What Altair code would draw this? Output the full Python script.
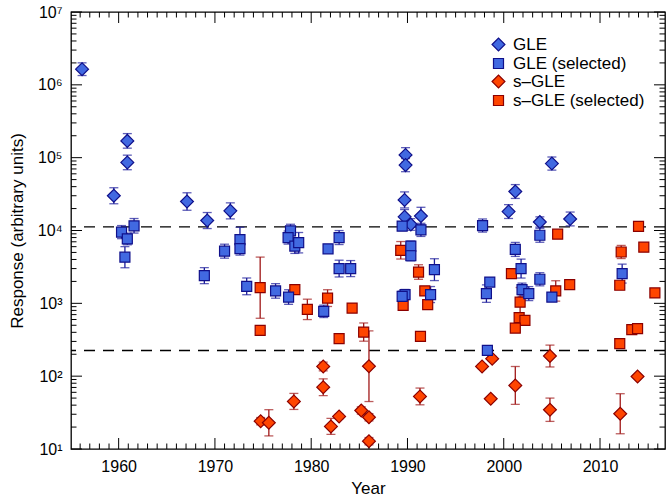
import altair as alt
import pandas as pd

# ---------------- data ----------------
series_names = ["GLE", "GLE (selected)", "s–GLE", "s–GLE (selected)"]

gle_year = [1956.2, 1959.5, 1960.9, 1960.9, 1967.1, 1969.2, 1971.6, 1989.8, 1989.8,
            1989.7, 1989.7, 1990.35, 1991.4, 2000.5, 2001.2, 2005.0, 2003.75, 2006.9]
gle_val = [1.64e6, 3.0e4, 1.70e5, 8.6e4, 2.5e4, 1.37e4, 1.86e4, 1.09e5, 7.9e4,
           2.63e4, 1.54e4, 1.21e4, 1.58e4, 1.82e4, 3.43e4, 8.3e4, 1.31e4, 1.44e4]
gle_err = [0.087, 0.11, 0.1, 0.1, 0.12, 0.11, 0.11, 0.1, 0.09,
           0.11, 0.1, 0.08, 0.12, 0.095, 0.095, 0.09, 0.07, 0.095]

gsel_year = [1960.3, 1960.9, 1961.6, 1960.65, 1968.9, 1971.0, 1972.6, 1972.6, 1973.3, 1976.3,
             1977.65, 1977.85, 1977.6, 1978.3, 1978.7, 1981.3, 1981.75, 1982.9, 1982.9, 1984.1,
             1989.45, 1990.35, 1990.35, 1991.4, 1992.8, 1989.75, 1989.45, 1992.4, 1997.8, 1998.55,
             1998.2, 1998.3, 2001.2, 2001.8, 2003.75, 2003.75, 2001.9, 2002.6, 2005.0, 2012.3]
gsel_val = [9.5e3, 7.65e3, 1.16e4, 4.3e3, 2.4e3, 5.2e3, 7.5e3, 5.65e3, 1.71e3, 1.48e3,
            1.22e3, 9.9e3, 8.0e3, 6.1e3, 6.8e3, 776, 5.6e3, 8.0e3, 3.0e3, 3.0e3,
            1.15e4, 6.1e3, 4.5e3, 1.02e4, 2.9e3, 1.32e3, 1.25e3, 1.32e3, 1.17e4, 1.96e3,
            1.36e3, 226, 5.5e3, 3.0e3, 8.6e3, 2.14e3, 1.54e3, 1.36e3, 1.22e3, 2.56e3]
gsel_err = [0.09, 0.08, 0.1, 0.145, 0.11, 0.096, 0.17, 0.09, 0.115, 0.1,
            0.1, 0.09, 0.09, 0.1, 0.14, 0.085, 0.03, 0.096, 0.115, 0.11,
            0.06, 0.07, 0.07, 0.09, 0.15, 0.07, 0.07, 0.11, 0.09, 0.03,
            0.12, 0.03, 0.096, 0.13, 0.096, 0.09, 0.09, 0.096, 0.03, 0.13]

sgle_year = [1974.75, 1975.6, 1978.2, 1981.25, 1981.25, 1982.05, 1982.9, 1985.2, 1986.0, 1986.0,
             1986.0, 1991.3, 1997.75, 1998.8, 1998.65, 2001.2, 2004.8, 2004.8, 2012.1, 2013.9]
sgle_val = [24.1, 22.9, 45, 136, 70.6, 20.4, 28, 33.8, 27.3, 137,
            12.8, 52.7, 136, 174, 49, 74.6, 189, 34.6, 30.5, 99]
sgle_err = [0.05, 0.18, 0.11, 0.06, 0.115, 0.11, 0.03, 0.05, 0.05, 0.485,
            0.05, 0.115, 0.03, 0.03, 0.0, 0.26, 0.15, 0.16, 0.275, 0.0]

ssel_year = [1974.7, 1974.7, 1978.3, 1979.6, 1981.7, 1982.9, 1984.25, 1985.45, 1989.3, 1989.55,
             1991.15, 1991.35, 1991.8, 1992.1, 2000.8, 2001.7, 2001.6, 2002.2, 2001.2, 2005.6,
             2005.4, 2006.85, 2012.05, 2012.2, 2012.05, 2013.3, 2013.9, 2014.0, 2014.55, 2015.7]
ssel_val = [1.64e3, 426, 1.54e3, 826, 1.18e3, 327, 861, 403, 5.35e3, 938,
            2.69e3, 351, 1.48e3, 960, 2.56e3, 1.04e3, 635, 584, 457, 8.9e3,
            1.48e3, 1.81e3, 1.77e3, 5.07e3, 279, 435, 449, 1.14e4, 5.9e3, 1.39e3]
ssel_err = [0.42, 0, 0.02, 0.14, 0.115, 0, 0, 0.125, 0.12, 0.03,
            0.1, 0, 0.03, 0, 0, 0.2, 0, 0, 0, 0.02,
            0.14, 0, 0, 0.09, 0, 0, 0, 0, 0, 0]

threshold_values = [1.12e4, 225]

x_major_ticks = [1960, 1970, 1980, 1990, 2000, 2010]
x_minor_ticks = [y for y in range(1956, 2017) if y % 10 != 0]
y_major_ticks = [10, 100, 1000, 10000, 100000, 1000000, 10000000]
y_minor_ticks = [m * 10 ** k for k in range(1, 7) for m in range(2, 10)]

# ---------------- tables ----------------
def table(name, years, vals, errs):
    return pd.DataFrame({"series": name, "year": years, "value": vals, "err": errs})

df = pd.concat([
    table(series_names[0], gle_year, gle_val, gle_err),
    table(series_names[2], sgle_year, sgle_val, sgle_err),
    table(series_names[3], ssel_year, ssel_val, ssel_err),
    table(series_names[1], gsel_year, gsel_val, gsel_err),
], ignore_index=True)
df["lo"] = df["value"] / 10 ** df["err"]
df["hi"] = df["value"] * 10 ** df["err"]
err_blue = df[(df["err"] > 0) & df["series"].isin(series_names[:2])]
err_red = df[(df["err"] > 0) & df["series"].isin(series_names[2:])]

W, H = 594, 437
FONT = "Liberation Sans"
MAJ, MIN = 11, 5.5
xs = alt.Scale(domain=[1955.05, 2016.75], nice=False, zero=False)
ys = alt.Scale(type="log", domain=[10, 1e7], nice=False)

BLUE, NAVY = "#4169E1", "#10108A"
RED, DRED = "#FF4500", "#8B0000"
EBLUE, ERED = "#1A1A9A", "#A01818"
fill_scale = alt.Scale(domain=series_names, range=[BLUE, BLUE, RED, RED])
stroke_scale = alt.Scale(domain=series_names, range=[NAVY, NAVY, DRED, DRED])
shape_scale = alt.Scale(domain=series_names, range=["diamond", "square", "diamond", "square"])
size_scale = alt.Scale(type="ordinal", domain=series_names, range=[165, 100, 165, 100])

# ---------------- inward ticks on all four sides ----------------
def xticks(vals, length):
    base = alt.Chart(pd.DataFrame({"t": vals})).mark_rule(color="black", strokeWidth=1)
    xe = alt.X("t:Q", scale=xs, axis=None)
    return [base.encode(x=xe, y=alt.value(H), y2=alt.value(H - length)),
            base.encode(x=xe, y=alt.value(0), y2=alt.value(length))]

def yticks(vals, length):
    base = alt.Chart(pd.DataFrame({"t": vals})).mark_rule(color="black", strokeWidth=1)
    ye = alt.Y("t:Q", scale=ys, axis=None)
    return [base.encode(y=ye, x=alt.value(0), x2=alt.value(length)),
            base.encode(y=ye, x=alt.value(W), x2=alt.value(W - length))]

tick_layers = (xticks(x_major_ticks, MAJ) + xticks(x_minor_ticks, MIN)
               + yticks(y_major_ticks, MAJ) + yticks(y_minor_ticks, MIN))

axis_main = alt.Chart(df).mark_point(opacity=0).encode(
    x=alt.X("year:Q", scale=xs, axis=alt.Axis(
        orient="bottom", values=x_major_ticks, format="d",
        ticks=False, domain=False, grid=False, labelPadding=9, title="Year",
        titlePadding=6)),
    y=alt.Y("value:Q", scale=ys, axis=alt.Axis(
        orient="left", values=y_major_ticks, ticks=False, domain=False, grid=False,
        labelExpr="'10' + ['⁰','¹','²','³','⁴','⁵','⁶','⁷'][round(log(datum.value)/LN10)]",
        labelPadding=9, title="Response (arbitrary units)", titlePadding=11)),
)

# ---------------- data layers ----------------
thr = alt.Chart(pd.DataFrame({"v": threshold_values})).mark_rule(
    strokeDash=[11, 8], color="black", strokeWidth=1.3
).encode(y=alt.Y("v:Q", scale=ys, axis=None))

def err_layers(data, col):
    base = alt.Chart(data)
    xenc = alt.X("year:Q", scale=xs, axis=None)
    rule = base.mark_rule(strokeWidth=1.3, color=col).encode(
        x=xenc, y=alt.Y("lo:Q", scale=ys, axis=None), y2="hi:Q")
    lo = base.mark_tick(orient="horizontal", size=9, thickness=1.3, color=col).encode(
        x=xenc, y=alt.Y("lo:Q", scale=ys, axis=None))
    hi = base.mark_tick(orient="horizontal", size=9, thickness=1.3, color=col).encode(
        x=xenc, y=alt.Y("hi:Q", scale=ys, axis=None))
    return [rule, lo, hi]

leg = alt.Legend(orient="none", legendX=419, legendY=24, title=None,
                 labelFont=FONT, labelFontSize=17, labelColor="black",
                 labelOffset=6, rowPadding=0, symbolStrokeWidth=1.2,
                 padding=0)
points = alt.Chart(df).mark_point(filled=True, opacity=1, strokeWidth=1.2).encode(
    x=alt.X("year:Q", scale=xs, axis=None),
    y=alt.Y("value:Q", scale=ys, axis=None),
    fill=alt.Fill("series:N", scale=fill_scale, legend=leg),
    stroke=alt.Stroke("series:N", scale=stroke_scale, legend=leg),
    shape=alt.Shape("series:N", scale=shape_scale, legend=leg),
    size=alt.Size("series:N", scale=size_scale, legend=leg),
)

chart = alt.layer(
    axis_main, *tick_layers, thr,
    *err_layers(err_blue, EBLUE), *err_layers(err_red, ERED), points
).resolve_axis(
    x="independent", y="independent"
).properties(
    width=W, height=H,
    autosize=alt.AutoSizeParams(type="none"),
    padding={"left": 71, "top": 12, "right": 1, "bottom": 51},
).configure_view(
    stroke="black", strokeWidth=1.3
).configure_axis(
    labelFont=FONT, labelFontSize=16, labelColor="black",
    titleFont=FONT, titleFontSize=17, titleFontWeight="normal", titleColor="black",
)

chart.save("out.html", embed_options={"renderer": "svg", "actions": False})
